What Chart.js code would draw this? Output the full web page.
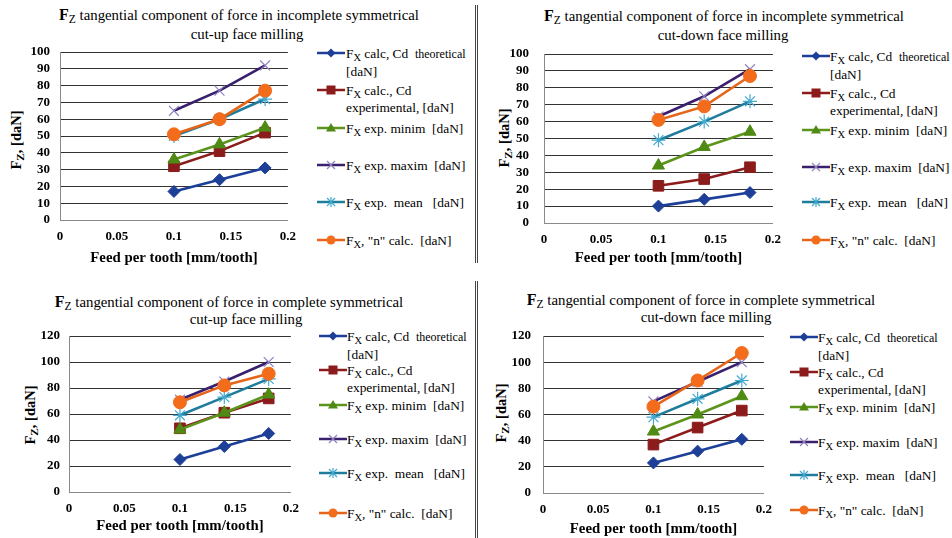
<!DOCTYPE html>
<html><head><meta charset="utf-8">
<script src="https://cdn.jsdelivr.net/npm/chart.js@4"></script>
<style>
html,body{margin:0;padding:0;background:#fff;}
body{width:952px;height:538px;position:relative;overflow:hidden;font-family:"Liberation Serif","DejaVu Serif",serif;color:#000;}
.cv{position:absolute;}
.t{position:absolute;white-space:nowrap;transform:translate(-50%,-50%);font-size:14.8px;line-height:1;}
.F{font-weight:bold;font-size:16px;}
sub{font-size:0.78em;vertical-align:-0.28em;line-height:0;}
.yt{position:absolute;white-space:nowrap;font-weight:bold;font-size:14.5px;line-height:1;transform:translate(-50%,-50%) rotate(-90deg);}
.lg{position:absolute;white-space:pre;font-size:13.4px;line-height:17px;}
.lg .F{font-weight:normal;font-size:14px;}
.sm{font-size:12px;}
.sep{position:absolute;width:1px;background:#444;}
svg{position:absolute;overflow:visible;}
</style></head><body>
<script>
// ---- data ----
const feedPerTooth = [0.1, 0.14, 0.18];
const xTickLabels = ['0', '0.05', '0.1', '0.15', '0.2'];
const seriesNames = ['calc, Cd  theoretical [daN]', 'calc., Cd experimental, [daN]', 'exp. minim  [daN]', 'exp. maxim  [daN]', 'exp.  mean   [daN]', ', "n" calc.  [daN]'];
const titleLine1Incomplete = 'tangential component of force in incomplete symmetrical';
const titleLine1Complete = 'tangential component of force in complete symmetrical';
const titleLine2CutUp = 'cut-up face milling';
const titleLine2CutDown = 'cut-down face milling';
const xAxisTitle = 'Feed per tooth [mm/tooth]';

// Panel 1: incomplete symmetrical, cut-up
const incUpTheoretical = [17, 24, 31];
const incUpExperimental = [32, 41, 52];
const incUpMinim = [36, 45, 55];
const incUpMaxim = [65, 77, 92];
const incUpMean = [50, 60, 72];
const incUpN = [51, 60, 77];
// Panel 2: incomplete symmetrical, cut-down
const incDownTheoretical = [10, 14, 18];
const incDownExperimental = [22, 26, 33];
const incDownMinim = [34, 45, 54];
const incDownMaxim = [63, 75, 91];
const incDownMean = [49, 60, 72];
const incDownN = [61, 69, 87];
// Panel 3: complete symmetrical, cut-up
const comUpTheoretical = [25, 35, 45];
const comUpExperimental = [49, 61, 72];
const comUpMinim = [48, 61, 75];
const comUpMaxim = [71, 85, 100];
const comUpMean = [59, 73, 87];
const comUpN = [69, 82, 91];
// Panel 4: complete symmetrical, cut-down
const comDownTheoretical = [23, 32, 41];
const comDownExperimental = [37, 50, 63];
const comDownMinim = [47, 60, 74];
const comDownMaxim = [70, 85, 100];
const comDownMean = [58, 72, 86];
const comDownN = [66, 86, 107];

// ---- styling ----
const FONT = '"Liberation Serif", "DejaVu Serif", serif';
const styles = [
  {line:'#1d3f98', ps:'rectRot', r:6, fill:'#1d3f98', pb:'#1d3f98', pbw:1},
  {line:'#8c1c1c', ps:'rect', r:7.5, fill:'#8c1c1c', pb:'#8c1c1c', pbw:1},
  {line:'#5c941c', ps:'triangle', r:7, fill:'#4f8a14', pb:'#4f8a14', pbw:1},
  {line:'#3a1f6c', ps:'crossRot', r:7, fill:'#8f82c2', pb:'#8f82c2', pbw:1.2},
  {line:'#1f7c9c', ps:'star', r:7, fill:'#43aad0', pb:'#43aad0', pbw:1.2},
  {line:'#e5661a', ps:'circle', r:6.5, fill:'#f26c1c', pb:'#f26c1c', pbw:1}
];

const panels = [
  {series:[incUpTheoretical, incUpExperimental, incUpMinim, incUpMaxim, incUpMean, incUpN],
   t1:titleLine1Incomplete, t2:titleLine2CutUp, tc:[239, 247], ty:[15, 34],
   box:{l:0, t:0, w:305, h:270}, area:{l:60, t:52, r:293, b:220}, ymax:100, ystep:10,
   yTickPad:10, xTickPad:9, xTitlePad:3, yTitle:[16, 140],
   lg:{lx:317, tx:346, rows:[53, 90, 128, 165, 202, 240]}},
  {series:[incDownTheoretical, incDownExperimental, incDownMinim, incDownMaxim, incDownMean, incDownN],
   t1:titleLine1Incomplete, t2:titleLine2CutDown, tc:[724, 723], ty:[16, 35],
   box:{l:476, t:0, w:314, h:270}, area:{l:544, t:54, r:778, b:223}, ymax:100, ystep:10,
   yTickPad:15, xTickPad:9, xTitlePad:3, yTitle:[504, 138],
   lg:{lx:802, tx:830, rows:[56, 93, 130, 167, 202, 240]}},
  {series:[comUpTheoretical, comUpExperimental, comUpMinim, comUpMaxim, comUpMean, comUpN],
   t1:titleLine1Complete, t2:titleLine2CutUp, tc:[229, 246], ty:[302, 319],
   box:{l:0, t:280, w:308, h:258}, area:{l:69, t:336, r:296, b:492}, ymax:120, ystep:20,
   yTickPad:9, xTickPad:9, xTitlePad:3, yTitle:[30, 415],
   lg:{lx:319, tx:347, rows:[336, 370, 405, 439, 473, 513]}},
  {series:[comDownTheoretical, comDownExperimental, comDownMinim, comDownMaxim, comDownMean, comDownN],
   t1:titleLine1Complete, t2:titleLine2CutDown, tc:[701, 706], ty:[300, 317],
   box:{l:476, t:280, w:305, h:258}, area:{l:543, t:336, r:769, b:493}, ymax:120, ystep:20,
   yTickPad:12, xTickPad:9, xTitlePad:0, yTitle:[501, 413],
   lg:{lx:790, tx:818, rows:[337, 372, 407, 442, 475, 510]}}
];

function el(cls, html, x, y){
  const d = document.createElement('div');
  d.className = cls; d.innerHTML = html;
  d.style.left = x + 'px'; d.style.top = y + 'px';
  document.body.appendChild(d);
  return d;
}

function legendSymbol(i, x, y){
  const s = styles[i];
  const cx = 14, cy = 6;
  let shape = '';
  if (s.ps === 'rectRot') shape = `<polygon points="${cx},${cy-4.5} ${cx+4.5},${cy} ${cx},${cy+4.5} ${cx-4.5},${cy}" fill="${s.fill}"/>`;
  else if (s.ps === 'rect') shape = `<rect x="${cx-4.5}" y="${cy-4.5}" width="9" height="9" fill="${s.fill}"/>`;
  else if (s.ps === 'triangle') shape = `<polygon points="${cx},${cy-5} ${cx+5},${cy+3.5} ${cx-5},${cy+3.5}" fill="${s.fill}"/>`;
  else if (s.ps === 'crossRot') shape = `<path d="M${cx-4},${cy-4}L${cx+4},${cy+4}M${cx-4},${cy+4}L${cx+4},${cy-4}" stroke="${s.fill}" stroke-width="1.2"/>`;
  else if (s.ps === 'star') shape = `<path d="M${cx-4},${cy-4}L${cx+4},${cy+4}M${cx-4},${cy+4}L${cx+4},${cy-4}M${cx},${cy-5}L${cx},${cy+5}" stroke="${s.fill}" stroke-width="1.2"/>`;
  else shape = `<circle cx="${cx}" cy="${cy}" r="4.5" fill="${s.fill}"/>`;
  const svg = `<svg width="28" height="12" style="left:${x}px;top:${y-6}px"><line x1="0" y1="${cy}" x2="28" y2="${cy}" stroke="${s.line}" stroke-width="2.5"/>${shape}</svg>`;
  const wrap = document.createElement('div');
  wrap.innerHTML = svg;
  document.body.appendChild(wrap.firstChild);
}

const legendHtml = [
  'F<sub>X</sub> calc, Cd  <span class="sm">theoretical</span>\n[daN]',
  'F<sub>X</sub> calc., Cd\nexperimental, [daN]',
  'F<sub>X</sub> exp. minim  [daN]',
  'F<sub>X</sub> exp. maxim  [daN]',
  'F<sub>X</sub> exp.  mean   [daN]',
  'F<sub>X</sub>, "n" calc.  [daN]'
];

function makePanel(p){
  el('t', '<span class="F">F</span><sub>Z</sub> ' + p.t1, p.tc[0], p.ty[0]);
  el('t', p.t2, p.tc[1], p.ty[1]);
  el('yt', 'F<sub>Z</sub>, [daN]', p.yTitle[0], p.yTitle[1]);
  p.series.forEach((_, i) => {
    const y = p.lg.rows[i];
    legendSymbol(i, p.lg.lx, y);
    el('lg', legendHtml[i], p.lg.tx, y - 8.5);
  });
  const cv = document.createElement('canvas');
  cv.className = 'cv';
  cv.style.left = p.box.l + 'px'; cv.style.top = p.box.t + 'px';
  cv.style.width = p.box.w + 'px'; cv.style.height = p.box.h + 'px';
  cv.width = p.box.w; cv.height = p.box.h;
  document.body.appendChild(cv);
  new Chart(cv, {
    type: 'scatter',
    data: {datasets: styles.map((s, i) => ({
      label: seriesNames[i],
      data: feedPerTooth.map((x, j) => ({x: x, y: p.series[i][j]})),
      showLine: true, borderColor: s.line, borderWidth: 2.6, tension: 0,
      pointStyle: s.ps, pointRadius: s.r, pointBackgroundColor: s.fill,
      pointBorderColor: s.pb, pointBorderWidth: s.pbw, order: 6 - i
    }))},
    options: {
      responsive: false, animation: false, events: [], devicePixelRatio: 1,
      layout: {padding: {left: 0, top: p.area.t - p.box.t, right: p.box.l + p.box.w - p.area.r, bottom: 0}},
      plugins: {legend: {display: false}, tooltip: {enabled: false}, title: {display: false}},
      scales: {
        x: {type: 'linear', min: 0, max: 0.2,
          ticks: {stepSize: 0.05, callback: (v, i) => xTickLabels[i], font: {family: FONT, size: 13, weight: 'bold'}, color: '#000', padding: p.xTickPad, maxRotation: 0, autoSkip: false},
          grid: {display: false, drawTicks: false}, border: {display: true, color: '#8a8a8a', width: 1},
          title: {display: true, text: xAxisTitle, font: {family: FONT, size: 14.8, weight: 'bold'}, color: '#000', padding: {top: 0, bottom: p.xTitlePad}},
          afterFit: s => { s.height = p.box.t + p.box.h - p.area.b; }},
        y: {min: 0, max: p.ymax,
          ticks: {stepSize: p.ystep, autoSkip: false, font: {family: FONT, size: 13, weight: 'bold'}, color: '#000', padding: p.yTickPad},
          grid: {color: c => (c.tick && c.tick.value === 0) ? '#8a8a8a' : '#333333', drawTicks: false, lineWidth: 1},
          border: {display: true, color: '#8a8a8a', width: 1},
          afterFit: s => { s.width = p.area.l - p.box.l; }}
      }
    }
  });
}

function drawAll(){
  panels.forEach(makePanel);
  [[475, 5, 258], [477, 5, 258], [475, 281, 257], [477, 281, 257]].forEach(([x, y, h]) => {
    const d = document.createElement('div');
    d.className = 'sep';
    d.style.left = x + 'px'; d.style.top = y + 'px'; d.style.height = h + 'px';
    document.body.appendChild(d);
  });
}
if (document.fonts && document.fonts.load) {
  Promise.all([document.fonts.load('bold 13px "Liberation Serif"'), document.fonts.load('13px "Liberation Serif"')]).then(drawAll, drawAll);
} else drawAll();
</script>
</body></html>
